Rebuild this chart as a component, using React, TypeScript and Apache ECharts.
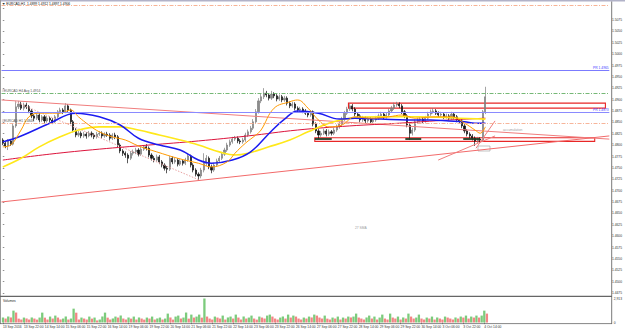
import React, { useEffect, useRef } from "react";
import * as echarts from "echarts";

// ---- axis / categories ----
const N_SLOTS = 233; // 2-hour slots incl. right-side chart shift
const categories = Array.from({ length: N_SLOTS }, (_, i) => String(i));
const xLabels = [
  "13 Sep 2016", "13 Sep 22:00", "14 Sep 14:00", "15 Sep 06:00", "15 Sep 22:00", "16 Sep 14:00",
  "19 Sep 06:00", "19 Sep 22:00", "20 Sep 14:00", "21 Sep 06:00", "21 Sep 22:00", "22 Sep 14:00",
  "23 Sep 06:00", "23 Sep 22:00", "26 Sep 14:00", "27 Sep 06:00", "27 Sep 22:00", "28 Sep 14:00",
  "29 Sep 06:00", "29 Sep 22:00", "30 Sep 14:00", "3 Oct 06:00", "3 Oct 22:00", "4 Oct 14:00",
];
const LABEL_STEP = 8;

// ---- price bars ----
const open0 = 1.4811;
const closes = [
  1.4804, 1.4798, 1.4809, 1.4802, 1.4842, 1.4884, 1.4890, 1.4881, 1.4888, 1.4884,
  1.4875, 1.4864, 1.4859, 1.4866, 1.4855, 1.4862, 1.4853, 1.4859, 1.4855, 1.4851,
  1.4862, 1.4873, 1.4877, 1.4873, 1.4886, 1.4877, 1.4851, 1.4833, 1.4822, 1.4826,
  1.4820, 1.4824, 1.4820, 1.4826, 1.4822, 1.4818, 1.4824, 1.4826, 1.4820, 1.4824,
  1.4822, 1.4815, 1.4822, 1.4818, 1.4800, 1.4787, 1.4782, 1.4778, 1.4771, 1.4782,
  1.4785, 1.4789, 1.4780, 1.4791, 1.4796, 1.4793, 1.4778, 1.4771, 1.4767, 1.4774,
  1.4763, 1.4756, 1.4749, 1.4747, 1.4771, 1.4763, 1.4767, 1.4758, 1.4765, 1.4760,
  1.4767, 1.4776, 1.4756, 1.4745, 1.4736, 1.4732, 1.4745, 1.4760, 1.4771, 1.4752,
  1.4745, 1.4756, 1.4765, 1.4771, 1.4780, 1.4789, 1.4800, 1.4807, 1.4813, 1.4815,
  1.4809, 1.4807, 1.4811, 1.4822, 1.4829, 1.4837, 1.4851, 1.4873, 1.4897, 1.4906,
  1.4914, 1.4910, 1.4903, 1.4912, 1.4908, 1.4901, 1.4906, 1.4899, 1.4903, 1.4892,
  1.4886, 1.4890, 1.4881, 1.4877, 1.4879, 1.4875, 1.4870, 1.4866, 1.4873, 1.4846,
  1.4831, 1.4822, 1.4826, 1.4831, 1.4824, 1.4829, 1.4826, 1.4833, 1.4840, 1.4846,
  1.4857, 1.4870, 1.4879, 1.4886, 1.4879, 1.4868, 1.4864, 1.4855, 1.4859, 1.4853,
  1.4857, 1.4851, 1.4855, 1.4859, 1.4864, 1.4868, 1.4862, 1.4866, 1.4875, 1.4881,
  1.4888, 1.4890, 1.4886, 1.4873, 1.4864, 1.4844, 1.4826, 1.4833, 1.4851, 1.4855,
  1.4857, 1.4853, 1.4859, 1.4868, 1.4873, 1.4875, 1.4870, 1.4866, 1.4868, 1.4862,
  1.4864, 1.4859, 1.4868, 1.4862, 1.4855, 1.4853, 1.4842, 1.4831, 1.4824, 1.4820,
  1.4815, 1.4809, 1.4813, 1.4811, 1.4873, 1.4906,
];
const highs = [
  1.4815, 1.4808, 1.4813, 1.4813, 1.4848, 1.4897, 1.4897, 1.4895, 1.4893, 1.4893,
  1.4888, 1.4879, 1.4868, 1.4871, 1.4870, 1.4866, 1.4866, 1.4864, 1.4863, 1.4859,
  1.4866, 1.4877, 1.4882, 1.4881, 1.4892, 1.4890, 1.4880, 1.4855, 1.4837, 1.4831,
  1.4830, 1.4829, 1.4828, 1.4831, 1.4830, 1.4826, 1.4829, 1.4831, 1.4830, 1.4828,
  1.4829, 1.4826, 1.4826, 1.4827, 1.4822, 1.4804, 1.4791, 1.4786, 1.4782, 1.4787,
  1.4790, 1.4794, 1.4793, 1.4796, 1.4800, 1.4802, 1.4797, 1.4782, 1.4776, 1.4779,
  1.4778, 1.4767, 1.4760, 1.4754, 1.4776, 1.4775, 1.4772, 1.4771, 1.4769, 1.4769,
  1.4772, 1.4782, 1.4779, 1.4760, 1.4749, 1.4740, 1.4750, 1.4782, 1.4778, 1.4775,
  1.4757, 1.4761, 1.4770, 1.4776, 1.4785, 1.4794, 1.4805, 1.4812, 1.4818, 1.4820,
  1.4819, 1.4813, 1.4816, 1.4827, 1.4834, 1.4842, 1.4857, 1.4879, 1.4903, 1.4912,
  1.4925, 1.4919, 1.4914, 1.4919, 1.4916, 1.4912, 1.4911, 1.4910, 1.4908, 1.4907,
  1.4896, 1.4895, 1.4894, 1.4885, 1.4884, 1.4883, 1.4879, 1.4874, 1.4877, 1.4876,
  1.4850, 1.4835, 1.4831, 1.4836, 1.4835, 1.4834, 1.4833, 1.4838, 1.4845, 1.4851,
  1.4862, 1.4875, 1.4884, 1.4890, 1.4890, 1.4883, 1.4872, 1.4868, 1.4864, 1.4863,
  1.4862, 1.4861, 1.4860, 1.4864, 1.4869, 1.4873, 1.4872, 1.4871, 1.4880, 1.4886,
  1.4893, 1.4895, 1.4894, 1.4890, 1.4877, 1.4868, 1.4848, 1.4838, 1.4856, 1.4860,
  1.4862, 1.4861, 1.4864, 1.4873, 1.4878, 1.4881, 1.4879, 1.4874, 1.4873, 1.4872,
  1.4869, 1.4868, 1.4873, 1.4872, 1.4866, 1.4859, 1.4857, 1.4846, 1.4835, 1.4828,
  1.4824, 1.4819, 1.4818, 1.4817, 1.4877, 1.4928,
];
const lows = [
  1.4800, 1.4793, 1.4789, 1.4798, 1.4799, 1.4838, 1.4879, 1.4877, 1.4876, 1.4879,
  1.4870, 1.4859, 1.4853, 1.4855, 1.4850, 1.4851, 1.4848, 1.4849, 1.4850, 1.4846,
  1.4848, 1.4859, 1.4869, 1.4868, 1.4870, 1.4872, 1.4846, 1.4828, 1.4817, 1.4818,
  1.4815, 1.4816, 1.4814, 1.4817, 1.4817, 1.4813, 1.4814, 1.4820, 1.4815, 1.4816,
  1.4818, 1.4810, 1.4811, 1.4813, 1.4795, 1.4782, 1.4776, 1.4772, 1.4760, 1.4767,
  1.4777, 1.4780, 1.4775, 1.4776, 1.4787, 1.4788, 1.4773, 1.4766, 1.4762, 1.4763,
  1.4758, 1.4751, 1.4744, 1.4738, 1.4743, 1.4758, 1.4759, 1.4753, 1.4754, 1.4755,
  1.4756, 1.4763, 1.4751, 1.4740, 1.4731, 1.4721, 1.4727, 1.4740, 1.4754, 1.4747,
  1.4738, 1.4741, 1.4752, 1.4761, 1.4767, 1.4776, 1.4785, 1.4796, 1.4803, 1.4809,
  1.4804, 1.4802, 1.4803, 1.4807, 1.4818, 1.4825, 1.4833, 1.4847, 1.4869, 1.4892,
  1.4901, 1.4905, 1.4898, 1.4899, 1.4903, 1.4896, 1.4897, 1.4894, 1.4895, 1.4887,
  1.4881, 1.4882, 1.4876, 1.4872, 1.4873, 1.4870, 1.4866, 1.4861, 1.4862, 1.4841,
  1.4826, 1.4813, 1.4818, 1.4822, 1.4819, 1.4820, 1.4821, 1.4822, 1.4829, 1.4836,
  1.4842, 1.4853, 1.4866, 1.4875, 1.4874, 1.4863, 1.4859, 1.4850, 1.4851, 1.4848,
  1.4849, 1.4846, 1.4847, 1.4851, 1.4855, 1.4860, 1.4857, 1.4858, 1.4862, 1.4871,
  1.4877, 1.4884, 1.4881, 1.4868, 1.4859, 1.4839, 1.4811, 1.4821, 1.4829, 1.4847,
  1.4850, 1.4848, 1.4849, 1.4855, 1.4864, 1.4869, 1.4866, 1.4861, 1.4862, 1.4857,
  1.4858, 1.4854, 1.4855, 1.4857, 1.4850, 1.4848, 1.4837, 1.4826, 1.4819, 1.4815,
  1.4810, 1.4798, 1.4804, 1.4806, 1.4807, 1.4868,
];

// ---- volumes ----
const volumes = [
  600, 480, 720, 610, 1440, 1210, 470, 360, 600, 490,
  360, 610, 480, 350, 600, 1200, 590, 360, 720, 480,
  840, 600, 370, 480, 730, 360, 480, 1680, 1190, 360,
  600, 480, 360, 720, 470, 600, 250, 360, 730, 1200,
  590, 360, 490, 720, 600, 850, 480, 360, 600, 470,
  720, 360, 610, 480, 350, 600, 480, 720, 360, 490,
  600, 360, 480, 1080, 610, 350, 720, 840, 480, 600,
  1210, 470, 960, 600, 720, 960, 590, 2913, 720, 480,
  360, 720, 600, 480, 840, 360, 610, 720, 480, 960,
  600, 360, 730, 480, 600, 840, 480, 350, 720, 600,
  480, 840, 960, 720, 480, 360, 600, 730, 480, 960,
  600, 840, 720, 480, 360, 600, 480, 720, 610, 960,
  840, 600, 480, 840, 470, 360, 600, 480, 720, 360,
  600, 480, 720, 610, 720, 1080, 600, 480, 360, 610,
  840, 480, 720, 360, 600, 960, 480, 360, 1080, 600,
  480, 720, 360, 610, 480, 1080, 720, 480, 600, 960,
  480, 360, 600, 480, 720, 360, 610, 480, 360, 720,
  600, 480, 360, 610, 480, 720, 600, 840, 480, 720,
  600, 840, 600, 840, 1440, 1080,
];
const volumeMax = 2913;

// ---- moving averages: [slot index, price] ----
const blueMA = [
  [0, 1.4807], [7, 1.4820], [18, 1.4848], [28, 1.4870], [37, 1.4862], [45, 1.4844],
  [52, 1.4815], [60, 1.4800], [68, 1.4789], [75, 1.4767], [80, 1.4760], [88, 1.4767],
  [95, 1.4785], [103, 1.4831], [108, 1.4857], [113, 1.4875], [121, 1.4870], [129, 1.4857],
  [135, 1.4859], [145, 1.4857], [155, 1.4855], [164, 1.4855], [171, 1.4853], [177, 1.4851],
  [181, 1.4848], [185, 1.4848],
];
const orangeMA = [
  [0, 1.4796], [3, 1.4800], [7, 1.4833], [10, 1.4862], [14, 1.4870], [18, 1.4870],
  [22, 1.4870], [26, 1.4877], [29, 1.4862], [33, 1.4844], [37, 1.4829], [42, 1.4818],
  [47, 1.4811], [52, 1.4798], [59, 1.4785], [67, 1.4771], [75, 1.4760], [80, 1.4752],
  [86, 1.4763], [89, 1.4782], [93, 1.4804], [97, 1.4822], [99, 1.4833], [104, 1.4881],
  [110, 1.4895], [113, 1.4899], [117, 1.4881], [121, 1.4855], [125, 1.4840], [130, 1.4844],
  [135, 1.4862], [141, 1.4859], [148, 1.4862], [153, 1.4866], [158, 1.4859], [166, 1.4862],
  [172, 1.4862], [177, 1.4848], [181, 1.4833], [183, 1.4826], [185, 1.4840],
];
const yellowMA = [
  [0, 1.4752], [7, 1.4771], [14, 1.4796], [22, 1.4818], [29, 1.4833], [37, 1.4840],
  [45, 1.4840], [52, 1.4833], [60, 1.4822], [68, 1.4811], [75, 1.4800], [83, 1.4785],
  [89, 1.4778], [94, 1.4782], [102, 1.4796], [110, 1.4811], [117, 1.4829], [125, 1.4848],
  [133, 1.4859], [144, 1.4862], [159, 1.4862], [175, 1.4859], [185, 1.4857],
];
const crimsonMA = [
  [0, 1.4767], [18, 1.4780], [37, 1.4791], [56, 1.4800], [75, 1.4809], [94, 1.4820],
  [113, 1.4833], [133, 1.4842], [152, 1.4848], [171, 1.4855], [185, 1.4859],
];

// ---- drawn objects ----
const trendDown = [[-0.5, 1.4899], [232.5, 1.4813]];
const trendUp = [[-0.5, 1.4675], [232.5, 1.4820]];
const trendDotted = [[4.7, 1.4895], [75.4, 1.4723]];
const fanA = [[166.9, 1.4767], [188.7, 1.4820]];
const fanB = [[181.4, 1.4793], [188.7, 1.4853]];
const upperBox = [[132.5, 1.4892], [231.0, 1.4881]];
const lowerBox = [[119.6, 1.4816], [226.9, 1.4808]];
const supportMarks = [[119.6, 126.1], [154.3, 160.4], [176.5, 183.0]];
const supportPrice = 1.4814;

// ---- horizontal levels ----
const levelTopOrange = 1.5108;
const levelPRHigh = 1.4965;
const levelAvgGreen = 1.4914;
const levelPRLow = 1.4873;
const levelOrange = 1.4848;

const FONT = "Liberation Sans, Arial, sans-serif";
const FS = 3.3;

export default function App() {
  const ref = useRef<HTMLDivElement>(null);

  useEffect(() => {
    const chart = echarts.init(ref.current!, null, { renderer: "svg" });

    const candleData = closes.map((c, i) => [i === 0 ? open0 : closes[i - 1], c, lows[i], highs[i]]);
    const volData = volumes.map((v, i) => ({
      value: v,
      itemStyle: { color: i === 0 || v > volumes[i - 1] ? "#7ccb7c" : "#f28585" },
    }));
    const lastClose = closes[closes.length - 1];

    const labelInterval = (index: number) =>
      index % LABEL_STEP === 0 && index / LABEL_STEP < xLabels.length;

    const maLine = (data: number[][], color: string, width: number) => ({
      type: "line",
      xAxisIndex: 1,
      yAxisIndex: 0,
      data,
      smooth: 0.4,
      showSymbol: false,
      symbol: "none",
      silent: true,
      z: 4,
      lineStyle: { color, width },
    });

    const trend = (data: number[][], color: string, type: any = "solid", extra: any = {}) => ({
      type: "line",
      xAxisIndex: 1,
      yAxisIndex: 0,
      data,
      showSymbol: false,
      symbol: "none",
      silent: true,
      z: 3,
      lineStyle: { color, width: 1, type },
      ...extra,
    });

    const dashDot = [4, 1.5, 1, 1.5];
    const lvlLabel = (text: string, position: string, color: string) => ({
      show: true, position, formatter: text, color, fontSize: FS, distance: 0.6, fontFamily: FONT,
    });

    const option: any = {
      animation: false,
      backgroundColor: "#ffffff",
      textStyle: { fontFamily: FONT },
      grid: [
        { left: 1.5, top: 3, width: 610.2, height: 290 },
        { left: 1.5, top: 298.5, width: 610.2, height: 24 },
      ],
      xAxis: [
        { type: "category", gridIndex: 0, data: categories, boundaryGap: true, show: false },
        { type: "value", gridIndex: 0, min: -0.5, max: N_SLOTS - 0.5, show: false },
        {
          type: "category",
          gridIndex: 1,
          data: categories,
          boundaryGap: true,
          axisLine: { show: false },
          axisTick: {
            show: true,
            interval: labelInterval,
            alignWithLabel: true,
            length: 1.6,
            lineStyle: { color: "#555", width: 0.6 },
          },
          axisLabel: {
            interval: labelInterval,
            formatter: (_v: string, index: number) => xLabels[index / LABEL_STEP] ?? "",
            align: "left",
            fontSize: FS,
            color: "#333",
            margin: 2.8,
            fontFamily: FONT,
          },
          splitLine: { show: false },
        },
      ],
      yAxis: [
        {
          type: "value",
          gridIndex: 0,
          position: "right",
          min: 1.4475,
          max: 1.5112,
          interval: 0.0025,
          axisLine: { show: false },
          axisTick: { show: true, length: 1.5, lineStyle: { color: "#444", width: 0.6 } },
          axisLabel: {
            fontSize: FS,
            color: "#333",
            margin: 2.6,
            fontFamily: FONT,
            formatter: (v: number) => (v > 1.509 ? "" : v.toFixed(4)),
          },
          splitLine: { show: false },
        },
        {
          type: "value",
          gridIndex: 1,
          position: "right",
          min: 0,
          max: volumeMax,
          interval: volumeMax,
          axisLine: { show: false },
          axisTick: { show: false },
          axisLabel: { fontSize: FS, color: "#333", margin: 2.6, fontFamily: FONT },
          splitLine: { show: false },
        },
      ],
      series: [
        {
          type: "candlestick",
          xAxisIndex: 0,
          yAxisIndex: 0,
          data: candleData,
          barWidth: 1.6,
          z: 2,
          silent: true,
          itemStyle: {
            color: "#8c8c8c",
            color0: "#111111",
            borderColor: "#7c7c7c",
            borderColor0: "#111111",
            borderWidth: 0.7,
          },
        },
        maLine(crimsonMA, "#dc143c", 1),
        maLine(yellowMA, "#ffe81a", 1.6),
        maLine(blueMA, "#1b1bf0", 1.5),
        maLine(orangeMA, "#ff9a00", 1),
        trend(trendDown, "#f07d7d", "solid", {
          markArea: {
            silent: true,
            itemStyle: { color: "rgba(0,0,0,0)", borderColor: "#e82626", borderWidth: 1.1 },
            data: [
              [{ coord: upperBox[0] }, { coord: upperBox[1] }],
              [{ coord: lowerBox[0] }, { coord: lowerBox[1] }],
            ],
          },
          markLine: {
            silent: true,
            precision: 4,
            symbol: ["none", "none"],
            label: { show: false },
            lineStyle: { color: "#1f3a22", width: 1.8, type: "solid" },
            data: supportMarks.map(([a, b]) => [
              { coord: [a, supportPrice] },
              { coord: [b, supportPrice] },
            ]),
          },
        }),
        trend(trendUp, "#f26a6a", "solid", {
          markLine: {
            silent: true,
            precision: 4,
            symbol: ["none", "none"],
            label: { show: false },
            data: [
              {
                yAxis: levelTopOrange,
                lineStyle: { color: "#f8b496", width: 1, type: dashDot },
              },
              {
                yAxis: levelPRHigh,
                lineStyle: { color: "#7b7bff", width: 1, type: "solid" },
                label: lvlLabel("PR 1.4965", "insideEndTop", "#3c3cff"),
              },
              {
                yAxis: levelAvgGreen,
                lineStyle: { color: "#66b066", width: 0.9, type: dashDot },
                label: lvlLabel("#EURCAD H4 Avg 1.4914", "insideStartTop", "#555"),
              },
              {
                yAxis: levelPRLow,
                lineStyle: { color: "#8a8aff", width: 1, type: "solid" },
                label: lvlLabel("PR 1.4873", "insideEndTop", "#3c3cff"),
              },
              {
                yAxis: levelOrange,
                lineStyle: { color: "#f6ad8e", width: 0.9, type: dashDot },
                label: lvlLabel("#EURCAD H1 1.4848", "insideStartTop", "#555"),
              },
              {
                yAxis: lastClose,
                lineStyle: { opacity: 0 },
                label: {
                  show: true, position: "end", formatter: lastClose.toFixed(4),
                  color: "#fff", backgroundColor: "#000", padding: [0.6, 0.9],
                  fontSize: FS, distance: 0.8, fontFamily: FONT,
                },
              },
            ],
          },
        }),
        trend(trendDotted, "#e9a3a3", [1.5, 1.5]),
        trend(fanA, "#f07d7d"),
        trend(fanB, "#f07d7d"),
        {
          type: "bar",
          xAxisIndex: 2,
          yAxisIndex: 1,
          data: volData,
          barWidth: 2.3,
          silent: true,
        },
      ],
      graphic: [
        { type: "rect", silent: true, shape: { x: 0, y: 0, width: 625, height: 1.5 }, style: { fill: "#b1b2c8" } },
        { type: "line", silent: true, shape: { x1: 0.5, y1: 0, x2: 0.5, y2: 324 }, style: { stroke: "#9a9a9a", lineWidth: 1 } },
        { type: "line", silent: true, shape: { x1: 611.7, y1: 1.5, x2: 611.7, y2: 324 }, style: { stroke: "#555", lineWidth: 0.8 } },
        { type: "line", silent: true, shape: { x1: 0, y1: 296.3, x2: 612, y2: 296.3 }, style: { stroke: "#666", lineWidth: 1.3 } },
        { type: "line", silent: true, shape: { x1: 0, y1: 323.6, x2: 612, y2: 323.6 }, style: { stroke: "#666", lineWidth: 0.8 } },
        {
          type: "text", silent: true, x: 2, y: 2.3,
          style: { text: "▼ EURCAD,H1  1.4899 1.4912 1.4897 1.4906", fontSize: FS, fontFamily: FONT, fill: "#111", verticalAlign: "top", textVerticalAlign: "top" },
        },
        {
          type: "text", silent: true, x: 3, y: 299,
          style: { text: "Volumes", fontSize: FS, fontFamily: FONT, fill: "#222", verticalAlign: "top", textVerticalAlign: "top" },
        },
        {
          type: "text", silent: true, x: 503, y: 128.2,
          style: { text: "accumulation", fontSize: FS, fontFamily: FONT, fill: "#a3a3a3", verticalAlign: "top", textVerticalAlign: "top" },
        },
        {
          type: "text", silent: true, x: 355, y: 226,
          style: { text: "27 SMA", fontSize: FS, fontFamily: FONT, fill: "#9c9c9c", verticalAlign: "top", textVerticalAlign: "top" },
        },
        {
          type: "rect", silent: true, shape: { x: 478, y: 146, width: 12, height: 5 },
          style: { fill: "#ffffff", stroke: "#9a9a9a", lineWidth: 0.6 },
        },
      ],
    };

    chart.setOption(option);
    return () => chart.dispose();
  }, []);

  return (
    <div
      ref={ref}
      style={{ position: "absolute", left: 0, top: 0, width: 625, height: 331 }}
    />
  );
}
